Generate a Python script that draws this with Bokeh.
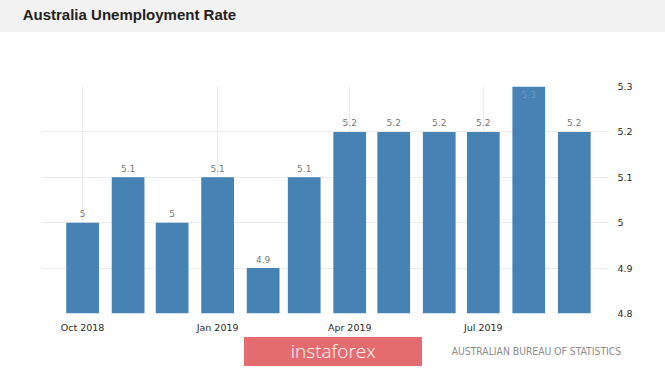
from datetime import datetime
from bokeh.plotting import figure
from bokeh.models import ColumnDataSource, Range1d, FixedTicker, Div
from bokeh.layouts import column
from bokeh.core.properties import value
from bokeh.embed import file_html
from bokeh.resources import INLINE

# ---- data ----
months = ["2018-10-01", "2018-11-01", "2018-12-01", "2019-01-01", "2019-02-01", "2019-03-01",
          "2019-04-01", "2019-05-01", "2019-06-01", "2019-07-01", "2019-08-01", "2019-09-01"]
rates = [5.0, 5.1, 5.0, 5.1, 4.9, 5.1, 5.2, 5.2, 5.2, 5.2, 5.3, 5.2]
bar_labels = ["5", "5.1", "5", "5.1", "4.9", "5.1", "5.2", "5.2", "5.2", "5.2", "5.3", "5.2"]
x_tick_dates = ["2018-10-01", "2019-01-01", "2019-04-01", "2019-07-01"]
x_tick_labels = ["Oct 2018", "Jan 2019", "Apr 2019", "Jul 2019"]
y_ticks = [4.8, 4.9, 5.0, 5.1, 5.2, 5.3]
y_tick_labels = ["4.8", "4.9", "5", "5.1", "5.2", "5.3"]
title_text = "Australia Unemployment Rate"
source_text = "AUSTRALIAN BUREAU OF STATISTICS"
watermark_text = "instaforex"

Y_MIN, Y_MAX = 4.8, 5.3
DAY = 86400000.0
W = 665


def ms(s):
    return datetime.strptime(s, "%Y-%m-%d").timestamp() * 1000.0


xs = [ms(m) for m in months]
inside = [r >= Y_MAX for r in rates]
src = ColumnDataSource(dict(
    x=xs, top=rates, label=bar_labels,
    yoff=[8 if i else -9 for i in inside],
    tcol=["#6f94bd" if i else "#777777" for i in inside],
))

p = figure(width=W, height=304, output_backend="svg", toolbar_location=None,
           x_axis_type="datetime", y_axis_location="right",
           x_range=Range1d(ms("2018-09-03"), ms("2019-09-25")),
           y_range=Range1d(Y_MIN, Y_MAX),
           min_border_left=41, min_border_right=56, min_border_top=54, min_border_bottom=23,
           title=None)
p.outline_line_color = None
p.background_fill_color = "white"
p.border_fill_color = "white"

p.vbar(x="x", top="top", bottom=Y_MIN, width=22.3 * DAY, source=src,
       fill_color="#4682b4", line_color=None)
p.text(x="x", y="top", text="label", source=src, y_offset="yoff",
       text_align="center", text_baseline="middle", text_color="tcol",
       text_font=value("DejaVu Sans"), text_font_size="9px")

xtick_ms = [ms(d) for d in x_tick_dates]
xa = p.xaxis[0]
xa.ticker = FixedTicker(ticks=xtick_ms)
xa.major_label_overrides = {t: l for t, l in zip(xtick_ms, x_tick_labels)}
xa.axis_line_color = None
xa.major_tick_line_color = None
xa.minor_tick_line_color = None
xa.major_tick_out = 0
xa.major_tick_in = 0
xa.minor_tick_out = 0
xa.major_label_standoff = 8
xa.major_label_text_font = "DejaVu Sans"
xa.major_label_text_font_size = "9.5px"
xa.major_label_text_color = "#2a2a2a"

ya = p.yaxis[0]
ya.ticker = FixedTicker(ticks=y_ticks)
ya.major_label_overrides = {t: l for t, l in zip(y_ticks, y_tick_labels)}
ya.axis_line_color = None
ya.major_tick_line_color = None
ya.minor_tick_line_color = None
ya.major_tick_out = 0
ya.major_tick_in = 0
ya.minor_tick_out = 0
ya.major_label_standoff = 8
ya.major_label_text_font = "DejaVu Sans"
ya.major_label_text_font_size = "9.5px"
ya.major_label_text_color = "#2a2a2a"

p.xgrid.ticker = FixedTicker(ticks=xtick_ms)
p.ygrid.ticker = FixedTicker(ticks=y_ticks)
p.xgrid.grid_line_color = "#ebebeb"
p.ygrid.grid_line_color = "#ebebeb"

title = Div(text=('<div style="position:absolute;top:6.6px;left:22.7px;'
                  'font:bold 15px/15px \'Liberation Sans\',Arial,sans-serif;color:#222;white-space:nowrap">'
                  + title_text + '</div>'),
            width=W, height=32,
            styles={"background-color": "#f2f2f2", "margin": "0", "position": "relative"})

footer = Div(text=('<div style="position:absolute;left:244.3px;top:1.3px;width:178px;height:29px;'
                   'background:#e46b6e;color:white;font:300 19px/29px \'Open Sans\',sans-serif;'
                   'text-align:center;white-space:nowrap">' + watermark_text + '</div>'
                   '<div style="position:absolute;left:451.7px;top:8.5px;color:#8c8c8c;'
                   'font:10.3px/12px \'Liberation Sans Narrow\',\'DejaVu Sans Condensed\',sans-serif;'
                   'white-space:nowrap">' + source_text + '</div>'),
             width=W, height=32,
             styles={"margin": "0", "position": "relative"})

layout = column(title, p, footer, spacing=0)
open("out.html", "w").write(file_html(layout, INLINE))
